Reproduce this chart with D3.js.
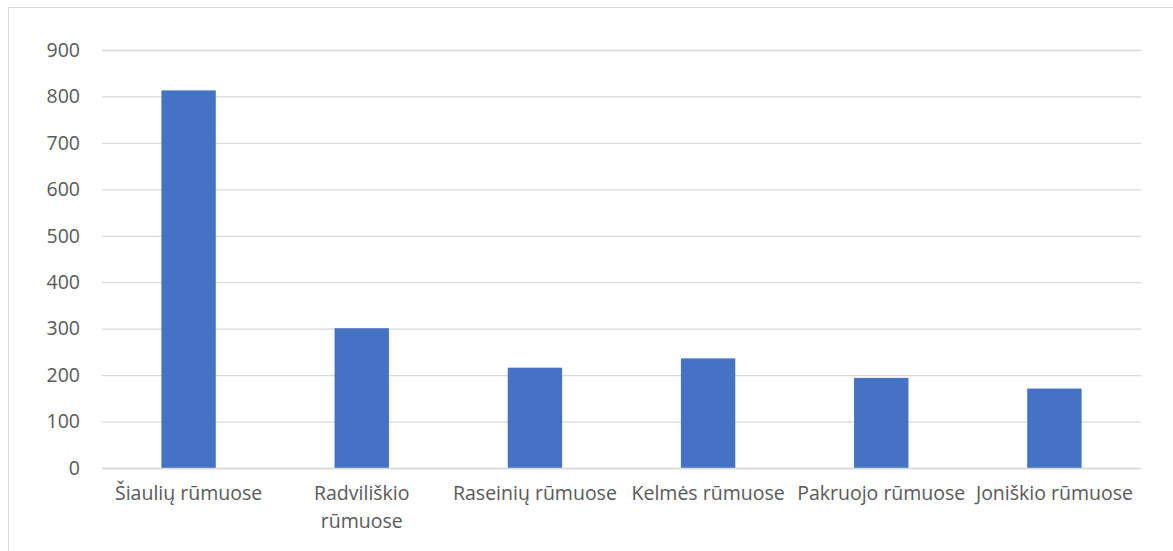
<!DOCTYPE html>
<html><head><meta charset="utf-8">
<script src="https://cdn.jsdelivr.net/npm/d3@7"></script>
<style>body{margin:0;background:#fff}svg{display:block}</style>
</head><body>
<svg id="c" width="1173" height="551"></svg>
<script>
const categories = ["Šiaulių rūmuose","Radviliškio rūmuose","Raseinių rūmuose","Kelmės rūmuose","Pakruojo rūmuose","Joniškio rūmuose"];
const values = [813, 301, 216, 236, 194, 171];
const yTicks = [0,100,200,300,400,500,600,700,800,900];

const svg = d3.select("#c");
const W = 1173, H = 551;
const m = {left:102, right:1141, top:50, bottom:468};
const font = "'Open Sans', sans-serif";
const fs = 19.5;
const txt = "#595959";

svg.append("rect").attr("x",8.5).attr("y",7.5).attr("width",W).attr("height",H)
  .attr("fill","#fff").attr("stroke","#d9d9d9").attr("stroke-width",1);

const x = d3.scaleBand().domain(categories).range([m.left,m.right]).paddingInner(0.686).paddingOuter(0.343);
const y = d3.scaleLinear().domain([0,900]).range([m.bottom,m.top]);

const yAxis = d3.axisLeft(y).tickValues(yTicks).tickSize(-(m.right-m.left)).tickPadding(22);
const gy = svg.append("g").attr("transform",`translate(${m.left},0)`).call(yAxis);
gy.select(".domain").remove();
gy.selectAll(".tick line").attr("stroke","#d9d9d9").attr("stroke-width",1.3);
gy.selectAll(".tick text").attr("fill",txt).attr("font-family",font).attr("font-size",fs);

svg.append("g").selectAll("rect").data(values).join("rect")
  .attr("x",(d,i)=>x(categories[i])).attr("width",x.bandwidth())
  .attr("y",d=>y(d)).attr("height",d=>y(0)-y(d)).attr("fill","#4472c4");

const xAxis = d3.axisBottom(x).tickSize(0).tickPadding(18);
const gx = svg.append("g").attr("transform",`translate(0,${m.bottom})`).call(xAxis);
gx.select(".domain").attr("stroke","#d9d9d9").attr("stroke-width",1.3);
gx.selectAll(".tick text").attr("fill",txt).attr("font-family",font).attr("font-size",fs)
  .each(function(d){
    const t = d3.select(this);
    const step = x.step();
    if (this.getComputedTextLength() > step) {
      const words = d.split(" ");
      t.text(null);
      words.forEach((w,i)=>{
        t.append("tspan").attr("x",0).attr("dy", i===0 ? "0.71em" : "1.42em").text(w);
      });
    }
  });
</script>
</body></html>
